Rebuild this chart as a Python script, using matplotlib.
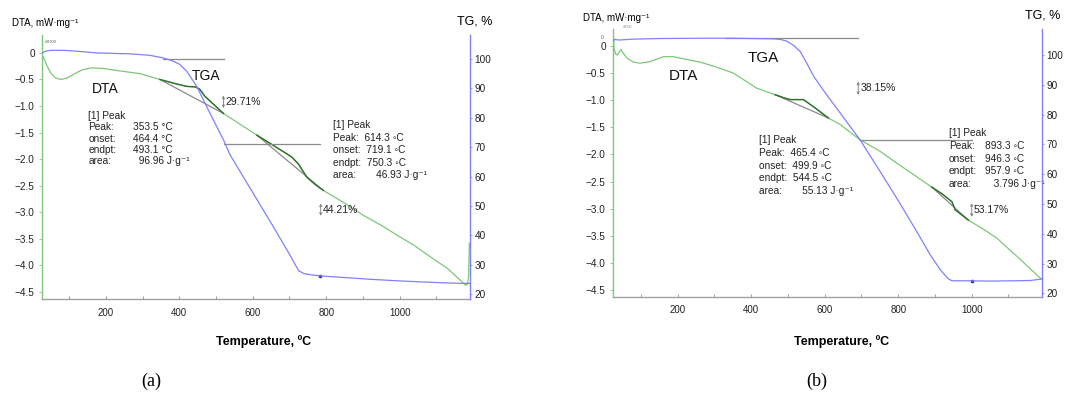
import numpy as np
import matplotlib
matplotlib.use('Agg')
import matplotlib.pyplot as plt
from matplotlib.transforms import offset_copy

plt.rcParams['font.family'] = ['Liberation Sans', 'DejaVu Sans']

# ---------------- data ----------------
# panel (a)
DTA_A_T = [25, 32, 40, 50, 62, 78, 95, 115, 135, 161, 190, 229, 293, 347, 390, 420, 443,
           455, 470, 495, 520, 560, 611, 660, 706, 725, 747, 770, 792, 850, 901, 950, 992,
           1040, 1083, 1130, 1174, 1180, 1185, 1188, 1190]
DTA_A_V = [-0.01, -0.12, -0.25, -0.38, -0.47, -0.50, -0.47, -0.39, -0.32, -0.28, -0.29, -0.33,
           -0.39, -0.50, -0.58, -0.63, -0.64, -0.68, -0.82, -0.98, -1.14, -1.32, -1.55, -1.76,
           -1.96, -2.10, -2.34, -2.48, -2.59, -2.83, -3.06, -3.25, -3.43, -3.63, -3.84, -4.06,
           -4.34, -4.38, -4.36, -4.20, -3.59]
TG_A_T = [25, 35, 50, 85, 130, 175, 265, 320, 356, 380, 400, 420, 447, 474, 500, 520, 538,
          592, 650, 700, 715, 725, 740, 760, 788, 850, 920, 992, 1060, 1120, 1174, 1190]
TG_A_P = [101.8, 102.6, 102.9, 102.9, 102.5, 102.0, 101.7, 101.2, 100.3, 99.4, 98.2, 95.8,
          90.7, 83.9, 77.4, 72.5, 67.4, 56.2, 44.2, 33.6, 30.2, 28.0, 27.0, 26.6, 26.2, 25.7,
          25.1, 24.6, 24.2, 23.9, 23.7, 23.7]
PEAKS_A = [(347, 520), (611, 792)]
STEP_A = [(29.71, 520, 87.5, 83.3), (44.21, 785, 50.8, 46.7)]
MARK_A = [(356, 521, 100.0), (521, 783, 71.1)]

# panel (b)
DTA_B_T = [25, 27, 31, 36, 42, 46, 52, 61, 79, 97, 125, 161, 188, 224, 261, 300, 351, 415,
           465, 490, 506, 525, 542, 575, 610, 642, 696, 750, 796, 850, 891, 920, 946, 955,
           970, 991, 1030, 1068, 1130, 1190]
DTA_B_V = [0.15, -0.05, -0.15, -0.17, -0.10, -0.07, -0.14, -0.22, -0.30, -0.32, -0.29, -0.20,
           -0.20, -0.25, -0.30, -0.38, -0.50, -0.78, -0.90, -0.96, -0.99, -0.99, -0.99, -1.15,
           -1.33, -1.45, -1.73, -1.94, -2.16, -2.41, -2.60, -2.73, -2.87, -3.02, -3.10, -3.21,
           -3.37, -3.54, -3.92, -4.30]
TG_B_T = [25, 28, 40, 79, 150, 261, 350, 460, 480, 497, 515, 533, 550, 569, 600, 642, 696,
          750, 796, 850, 887, 915, 935, 946, 995, 1050, 1113, 1160, 1190]
TG_B_P = [104.6, 105.2, 105.0, 105.3, 105.5, 105.6, 105.6, 105.4, 105.2, 104.6, 103.2, 101.2,
          97.5, 93.0, 87.5, 80.5, 71.5, 61.0, 51.9, 40.8, 32.9, 27.8, 25.0, 24.2, 24.2, 24.1,
          24.2, 24.3, 24.8]
PEAKS_B = [(465, 610), (891, 991)]
STEP_B = [(38.15, 691, 91.0, 86.6), (53.17, 1000, 50.2, 45.7)]
MARK_B = [(330, 691, 105.6), (696, 1000, 71.5)]

XTICKS = [200, 400, 600, 800, 1000]
XMINOR = [100, 300, 500, 700, 900, 1100]
DTA_TICKS = [0, -0.5, -1.0, -1.5, -2.0, -2.5, -3.0, -3.5, -4.0, -4.5]
DTA_TICKLABELS = ['0', '\u22120.5', '\u22121.0', '\u22121.5', '\u22122.0', '\u22122.5',
                  '\u22123.0', '\u22123.5', '\u22124.0', '\u22124.5']
TG_TICKS = [20, 30, 40, 50, 60, 70, 80, 90, 100]

DEG = '\u00b0C'
RING = '\u25e6C'
JG = 'J\u00b7g\u207b\u00b9'
# value column given (x1) -> two columns; x1 None -> one string per row
BLOCKS_A = [
    dict(x0=152, x1=274, y0=-1.19, dy=8.1, fs=7.3,
         rows=[('[1] Peak', ''), ('Peak:', '353.5 ' + DEG), ('onset:', '464.4 ' + DEG),
               ('endpt:', '493.1 ' + DEG), ('area:', '  96.96 ' + JG)]),
    dict(x0=819, x1=None, y0=-1.36, dy=9.0, fs=7.3,
         rows=[('[1] Peak', ''), ('Peak:', '  614.3 ' + RING), ('onset:', '  719.1 ' + RING),
               ('endpt:', '  750.3 ' + RING), ('area:', '       46.93 ' + JG)]),
]
BLOCKS_B = [
    dict(x0=421, x1=None, y0=-1.74, dy=9.1, fs=7.3,
         rows=[('[1] Peak', ''), ('Peak:', '  465.4 ' + RING), ('onset:', '  499.9 ' + RING),
               ('endpt:', '  544.5 ' + RING), ('area:', '       55.13 ' + JG)]),
    dict(x0=938, x1=1036, y0=-1.61, dy=9.1, fs=7.3,
         rows=[('[1] Peak', ''), ('Peak:', '893.3 ' + RING), ('onset:', '946.3 ' + RING),
               ('endpt:', '957.9 ' + RING), ('area:', '   3.796 ' + JG)]),
]

GREEN = '#7cc878'
DGREEN = '#2f6e2f'
BLUE = '#8080ff'
GRAY = '#8a8a8a'
W, H = 1069, 394

fig = plt.figure(figsize=(W / 100, H / 100), dpi=100)


def rect(l, r, t, b):
    return [l / W, 1 - b / H, (r - l) / W, (b - t) / H]


def panel(rc, xlim, ylim_d, ylim_t, dT, dV, tT, tP, peaks, steps, marks, blocks,
          lab_d, lab_t, lab_fs):
    ax = fig.add_axes(rc)
    ax2 = ax.twinx()
    ax.set_xlim(*xlim)
    ax.set_ylim(*ylim_d)
    ax2.set_ylim(*ylim_t)

    dT = np.asarray(dT, float); dV = np.asarray(dV, float)
    tT = np.asarray(tT, float); tP = np.asarray(tP, float)

    ax.plot(dT, dV, color=GREEN, lw=0.9, zorder=3)
    for a, b in peaks:
        m = (dT >= a) & (dT <= b)
        ya, yb = np.interp([a, b], dT, dV)
        ax.plot([a, b], [ya, yb], color=GRAY, lw=0.9, zorder=2)
        ax.plot(dT[m], dV[m], color=DGREEN, lw=1.0, zorder=4)

    ax2.plot(tT, tP, color=BLUE, lw=0.9, zorder=3)
    for a, b, lev in marks:
        ax2.plot([a, b], [lev, lev], color=GRAY, lw=0.9, zorder=2)
    for val, T, hi, lo in steps:
        ax2.annotate('', xy=(T, lo), xytext=(T, hi),
                     arrowprops=dict(arrowstyle='<->', color='#777777', lw=0.6,
                                     mutation_scale=4, shrinkA=0, shrinkB=0))
        ax2.text(T + 6, (hi + lo) / 2, '%.2f%%' % val, fontsize=7.5, color='#222222',
                 va='center', ha='left')

    for blk in blocks:
        for i, (lab, val) in enumerate(blk['rows']):
            tr = offset_copy(ax.transData, fig=fig, y=-i * blk['dy'], units='points')
            if blk['x1'] is None:
                ax.text(blk['x0'], blk['y0'], lab + val, transform=tr, fontsize=blk['fs'],
                        color='#222222', va='center', ha='left')
            else:
                ax.text(blk['x0'], blk['y0'], lab, transform=tr, fontsize=blk['fs'],
                        color='#222222', va='center', ha='left')
                if val:
                    ax.text(blk['x1'], blk['y0'], val, transform=tr, fontsize=blk['fs'],
                            color='#222222', va='center', ha='left')

    ax.text(lab_d[0], lab_d[1], 'DTA', fontsize=lab_fs, ha='center', va='center',
            color='#111111')
    ax.text(lab_t[0], lab_t[1], 'TGA', fontsize=lab_fs, ha='center', va='center',
            color='#111111')

    # axes styling
    for s in ['top', 'right']:
        ax.spines[s].set_visible(False)
    for s in ['top', 'left', 'bottom']:
        ax2.spines[s].set_visible(False)
    ax.spines['left'].set_color(GREEN)
    ax.spines['left'].set_linewidth(1.0)
    ax.spines['bottom'].set_color('#a0a0a0')
    ax.spines['bottom'].set_linewidth(1.0)
    ax2.spines['right'].set_color(BLUE)
    ax2.spines['right'].set_linewidth(1.0)

    ax.set_xticks(XTICKS)
    ax.set_xticks(XMINOR, minor=True)
    ax.set_xticklabels([str(t) for t in XTICKS])
    ax.tick_params(axis='x', which='both', direction='in', length=2.5, width=0.6,
                   color='#909090', labelsize=7, labelcolor='#222222', pad=6)
    ax.set_yticks(DTA_TICKS)
    ax.set_yticklabels(DTA_TICKLABELS)
    ax.tick_params(axis='y', direction='out', length=2, width=0.6, color=GREEN,
                   labelsize=7.2, labelcolor='#222222', pad=3)
    ax2.set_yticks(TG_TICKS)
    ax2.set_yticklabels([str(t) for t in TG_TICKS])
    ax2.tick_params(axis='y', direction='out', length=1.5, width=0.6, color=BLUE,
                    labelsize=7.2, labelcolor='#222222', pad=1.5)
    return ax, ax2


axA, axA2 = panel(rect(41.7, 470.3, 35.3, 299.3), (25, 1192.5), (-4.644, 0.333), (18.3, 108.0),
                  DTA_A_T, DTA_A_V, TG_A_T, TG_A_P, PEAKS_A, STEP_A, MARK_A, BLOCKS_A,
                  (197, -0.67), (474, -0.43), 10)
axB, axB2 = panel(rect(612.7, 1042.3, 29.0, 296.7), (23, 1192), (-4.62, 0.31), (18.86, 108.7),
                  DTA_B_T, DTA_B_V, TG_B_T, TG_B_P, PEAKS_B, STEP_B, MARK_B, BLOCKS_B,
                  (215, -0.56), (433, -0.22), 11)

# small markers
axA2.plot([783], [np.interp(783, TG_A_T, TG_A_P)], 'o', ms=1.6, color='#333366')
axB2.plot([1000], [np.interp(1000, TG_B_T, TG_B_P)], 'o', ms=1.6, color='#333366')
axA.text(47, 0.21, '\u2193exo', fontsize=4.5, color='#777777', ha='center', va='center')
axB.text(60, 0.36, '\u2193exo', fontsize=3.5, color='#999999', ha='center', va='center',
         clip_on=False)
axB.text(-5, 0.16, '0', fontsize=3.5, color='#555555', ha='center', va='center',
         clip_on=False)

# axis titles
fig.text(12 / W, 1 - 23.4 / H, 'DTA, mW\u00b7mg\u207b\u00b9', fontsize=7, ha='left', va='center')
fig.text(457 / W, 1 - 21.4 / H, 'TG, %', fontsize=9, ha='left', va='center')
fig.text(583.3 / W, 1 - 18.3 / H, 'DTA, mW\u00b7mg\u207b\u00b9', fontsize=7, ha='left',
         va='center')
fig.text(1025 / W, 1 - 16 / H, 'TG, %', fontsize=9, ha='left', va='center')
fig.text(264 / W, 1 - 341.7 / H, 'Temperature, \u00baC', fontsize=9, fontweight='bold',
         ha='center', va='center')
fig.text(842 / W, 1 - 341.5 / H, 'Temperature, \u00baC', fontsize=9, fontweight='bold',
         ha='center', va='center')
fig.text(151.7 / W, 1 - 381 / H, '(a)', fontsize=13, family='Liberation Serif',
         ha='center', va='center')
fig.text(816.7 / W, 1 - 381 / H, '(b)', fontsize=13, family='Liberation Serif',
         ha='center', va='center')

fig.savefig('out.png', dpi=100)
